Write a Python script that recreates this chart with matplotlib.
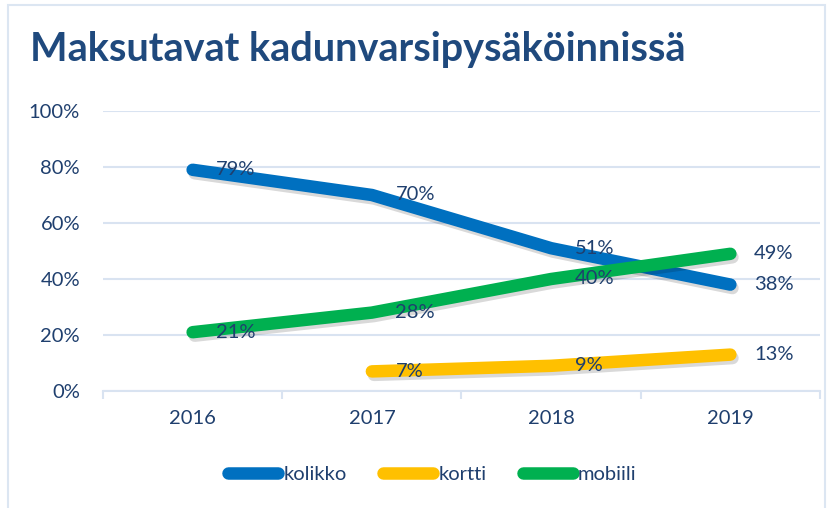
import matplotlib.pyplot as plt
import matplotlib.patheffects as pe
from matplotlib.patches import Rectangle

years = ["2016", "2017", "2018", "2019"]
kolikko = [79, 70, 51, 38]
kortti = [None, 7, 9, 13]
mobiili = [21, 28, 40, 49]
yticks = [0, 20, 40, 60, 80, 100]

series = [
    ("kolikko", kolikko, "#0070C0"),
    ("kortti", kortti, "#FFC000"),
    ("mobiili", mobiili, "#00B050"),
]

TEXT = "#1F3F6E"
GRID = "#D9E3F1"
plt.rcParams["font.family"] = ["Lato", "DejaVu Sans"]

fig = plt.figure(figsize=(8.36, 5.08), dpi=100)
fig.patches.append(Rectangle((8 / 836, -0.01), (825 - 8) / 836, 1 - 5 / 508 + 0.01,
                             transform=fig.transFigure, fill=False,
                             edgecolor="#DCE6F2", linewidth=1.5))
fig.text(30 / 836, 1 - 50 / 508, "Maksutavat kadunvarsipysäköinnissä",
         fontsize=28.5, fontweight="bold", color="#1F497D", va="center")

ax = fig.add_axes([103 / 836, 1 - 391 / 508, (820 - 103) / 836, 280 / 508])
shadow = [pe.SimpleLineShadow(offset=(1.5, -2.5), alpha=0.15, shadow_color="black"),
          pe.Normal()]

for name, vals, color in series:
    xs = [i for i, v in enumerate(vals) if v is not None]
    ys = [v for v in vals if v is not None]
    ax.plot(xs, ys, color=color, linewidth=9, solid_capstyle="round",
            solid_joinstyle="round", label=name, path_effects=shadow, zorder=3)
    for x, y in zip(xs, ys):
        ax.annotate(f"{y}%", (x, y), xytext=(17, 0), textcoords="offset points",
                    ha="left", va="center", fontsize=14.5, color=TEXT, zorder=4)

ax.set_xlim(-0.5, 3.5)
ax.set_ylim(0, 100)
ax.set_yticks(yticks)
ax.set_yticklabels([f"{t}%" for t in yticks])
ax.set_xticks(range(len(years)))
ax.set_xticklabels(years)
ax.set_xticks([-0.5, 0.5, 1.5, 2.5, 3.5], minor=True)
ax.tick_params(axis="x", which="major", length=0, pad=14, labelsize=14.5, labelcolor=TEXT)
ax.tick_params(axis="x", which="minor", length=6, color=GRID, width=1.5)
ax.tick_params(axis="y", length=0, pad=16.5, labelsize=14.5, labelcolor=TEXT)
ax.grid(axis="y", color=GRID, linewidth=1.5)
ax.set_axisbelow(True)
for side in ["top", "right", "left"]:
    ax.spines[side].set_visible(False)
ax.spines["bottom"].set_color(GRID)
ax.spines["bottom"].set_linewidth(1.5)

leg = fig.legend(loc="center", bbox_to_anchor=(0.517, 1 - 474 / 508), ncol=3, frameon=False,
                 fontsize=14.5, labelcolor=TEXT, handlelength=2.5, handletextpad=0.25,
                 columnspacing=1.8)
for h in leg.legend_handles:
    h.set_path_effects([])

fig.savefig("out.png", dpi=100)
